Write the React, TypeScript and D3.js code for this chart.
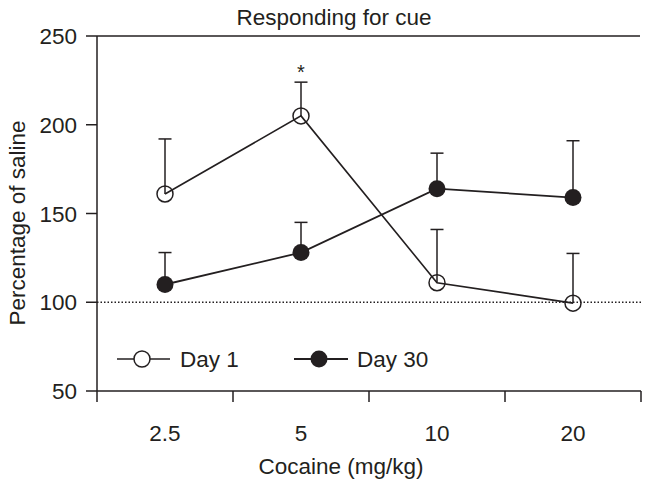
import React from "react";
import * as d3 from "d3";

const doses = ["2.5", "5", "10", "20"];
const day1Mean = [161, 205, 111, 99.5];
const day1Err = [192, 224, 141, 127.5];
const day30Mean = [110, 128, 164, 159];
const day30Err = [128, 145, 184, 191];
const yTicks = [50, 100, 150, 200, 250];
const seriesNames = ["Day 1", "Day 30"];

const W = 649;
const H = 486;
const M = { left: 97, right: 641, top: 36, bottom: 391 };
const FONT = "'Liberation Sans', Arial, Helvetica, sans-serif";
const FS = 22.5;

export default function App() {
  const x = d3.scaleBand<string>().domain(doses).range([M.left, M.right]).padding(0);
  const y = d3.scaleLinear().domain([50, 250]).range([M.bottom, M.top]);
  const cx = (d: string) => (x(d) as number) + x.bandwidth() / 2;
  const line = d3
    .line<[number, number]>()
    .x((d) => d[0])
    .y((d) => d[1]);

  const d1pts: [number, number][] = doses.map((d, i) => [cx(d), y(day1Mean[i])]);
  const d30pts: [number, number][] = doses.map((d, i) => [cx(d), y(day30Mean[i])]);
  const boundaries = [...doses.map((d) => x(d) as number), M.right];
  const capHalf = 6.5;
  const r = 8;

  return (
    <svg
      width={W}
      height={H}
      style={{ position: "absolute", left: 0, top: 0, background: "#fff" }}
      fontFamily={FONT}
    >
      <rect width={W} height={H} fill="#fff" />
      {/* title */}
      <text x={334} y={25} fontSize={FS} textAnchor="middle" fill="#231f20">
        Responding for cue
      </text>
      {/* top line */}
      <line x1={M.left} x2={M.right - 1} y1={M.top} y2={M.top} stroke="#231f20" strokeWidth={1.5} />
      {/* y axis */}
      <line x1={M.left} x2={M.left} y1={M.top} y2={M.bottom} stroke="#231f20" strokeWidth={1.5} />
      {yTicks.map((t) => (
        <g key={t}>
          <line x1={M.left - 11} x2={M.left} y1={y(t)} y2={y(t)} stroke="#231f20" strokeWidth={1.5} />
          <text
            x={M.left - 20}
            y={y(t)}
            dy="0.36em"
            fontSize={FS}
            textAnchor="end"
            fill="#231f20"
          >
            {t}
          </text>
        </g>
      ))}
      {/* x axis */}
      <line x1={M.left} x2={M.right} y1={M.bottom} y2={M.bottom} stroke="#231f20" strokeWidth={1.5} />
      {boundaries.map((b, i) => (
        <line key={i} x1={b} x2={b} y1={M.bottom} y2={M.bottom + 11} stroke="#231f20" strokeWidth={1.5} />
      ))}
      {doses.map((d) => (
        <text key={d} x={cx(d)} y={441} fontSize={FS} textAnchor="middle" fill="#231f20">
          {d}
        </text>
      ))}
      <text x={341} y={474} fontSize={FS} textAnchor="middle" fill="#231f20">
        Cocaine (mg/kg)
      </text>
      <text
        transform={`translate(25, 223) rotate(-90)`}
        fontSize={FS}
        textAnchor="middle"
        fill="#231f20"
      >
        Percentage of saline
      </text>
      {/* reference line at 100 */}
      <line
        x1={M.left}
        x2={M.right}
        y1={y(100)}
        y2={y(100)}
        stroke="#231f20"
        strokeWidth={1.5}
        strokeDasharray="1.5 2"
      />
      {/* error bars */}
      {doses.map((d, i) => (
        <g key={"e1" + d} stroke="#231f20" strokeWidth={1.5}>
          <line x1={cx(d)} x2={cx(d)} y1={y(day1Mean[i])} y2={y(day1Err[i])} />
          <line x1={cx(d) - capHalf} x2={cx(d) + capHalf} y1={y(day1Err[i])} y2={y(day1Err[i])} />
          <line x1={cx(d)} x2={cx(d)} y1={y(day30Mean[i])} y2={y(day30Err[i])} />
          <line x1={cx(d) - capHalf} x2={cx(d) + capHalf} y1={y(day30Err[i])} y2={y(day30Err[i])} />
        </g>
      ))}
      {/* lines */}
      <path d={line(d30pts) || ""} fill="none" stroke="#231f20" strokeWidth={1.8} />
      <path d={line(d1pts) || ""} fill="none" stroke="#231f20" strokeWidth={1.6} />
      {/* markers */}
      {d30pts.map((p, i) => (
        <circle key={"f" + i} cx={p[0]} cy={p[1]} r={r + 0.5} fill="#231f20" />
      ))}
      {d1pts.map((p, i) => (
        <circle key={"o" + i} cx={p[0]} cy={p[1]} r={r} fill="none" stroke="#231f20" strokeWidth={1.5} />
      ))}
      {/* asterisk */}
      <text x={cx("5")} y={y(day1Err[1]) - 3} fontSize={20} textAnchor="middle" fill="#231f20">
        *
      </text>
      {/* legend */}
      <g>
        <line x1={117} x2={170} y1={359} y2={359} stroke="#231f20" strokeWidth={1.6} />
        <circle cx={142} cy={359} r={r} fill="#fff" stroke="#231f20" strokeWidth={1.5} />
        <text x={180} y={359} dy="0.36em" fontSize={FS} fill="#231f20">
          {seriesNames[0]}
        </text>
        <line x1={294} x2={348} y1={359} y2={359} stroke="#231f20" strokeWidth={1.8} />
        <circle cx={319} cy={359} r={r + 0.5} fill="#231f20" />
        <text x={357} y={359} dy="0.36em" fontSize={FS} fill="#231f20">
          {seriesNames[1]}
        </text>
      </g>
    </svg>
  );
}
